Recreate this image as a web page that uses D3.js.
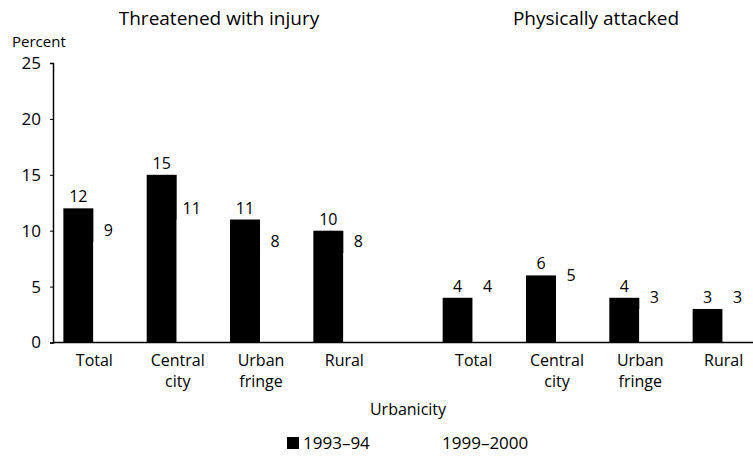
<!DOCTYPE html>
<html>
<head>
<meta charset="utf-8">
<script src="https://cdn.jsdelivr.net/npm/d3@7"></script>
<style>
  body { margin: 0; background: #fff; }
  svg text { font-family: "Open Sans", "Noto Sans", sans-serif; fill: #000; }
</style>
</head>
<body>
<div id="chart"></div>
<script>
const categories = [['Total'], ['Central', 'city'], ['Urban', 'fringe'], ['Rural']];
const series = ['1993–94', '1999–2000'];
const panels = ['Threatened with injury', 'Physically attacked'];
const threatened9394 = [12, 15, 11, 10];
const threatened9900 = [9, 11, 8, 8];
const attacked9394 = [4, 6, 4, 3];
const attacked9900 = [4, 5, 3, 3];
const yTicks = [0, 5, 10, 15, 20, 25];

const width = 753;
const height = 456;
const colors = ['#000', '#fff'];

const svg = d3.select('#chart')
              .append('svg')
              .attr('width', width)
              .attr('height', height);

const yScale = d3.scaleLinear()
                 .domain([0, 25])
                 .range([342.5, 63]);

const catKeys = categories.map(c => c.join(' '));

const panelData = [
    { title: panels[0], values: [threatened9394, threatened9900], range: [51.7, 385], titleX: 219 },
    { title: panels[1], values: [attacked9394, attacked9900], range: [431, 764.3], titleX: 596 }
];

const yAxis = d3.axisLeft(yScale)
                .tickValues(yTicks)
                .tickSize(3)
                .tickPadding(9);

svg.append('text')
   .attr('x', 12).attr('y', 47)
   .style('font-size', '15px')
   .text('Percent');

panelData.forEach(p => {
    const x = d3.scaleBand()
                .domain(catKeys)
                .range(p.range)
                .paddingInner(0.28)
                .paddingOuter(0.14);
    const xSub = d3.scaleBand()
                   .domain(series)
                   .range([0, x.bandwidth()]);

    svg.append('text')
       .attr('x', p.titleX).attr('y', 25)
       .attr('text-anchor', 'middle')
       .style('font-size', '19px')
       .text(p.title);

    const g = svg.append('g');

    series.forEach((s, si) => {
        const vals = p.values[si];
        g.selectAll('.bar-' + si)
         .data(vals)
         .enter()
         .append('rect')
         .attr('x', (d, i) => x(catKeys[i]) + xSub(s))
         .attr('y', d => yScale(d))
         .attr('width', xSub.bandwidth())
         .attr('height', d => yScale(0) - yScale(d))
         .attr('fill', colors[si]);

        g.selectAll('.lab-' + si)
         .data(vals)
         .enter()
         .append('text')
         .attr('x', (d, i) => x(catKeys[i]) + xSub(s) + xSub.bandwidth() / 2)
         .attr('y', d => yScale(d) - 6)
         .attr('text-anchor', 'middle')
         .style('font-size', '16px')
         .text(d => d);
    });

    categories.forEach((c, i) => {
        const cx = x(catKeys[i]) + x.bandwidth() / 2 + 1;
        const t = svg.append('text')
                     .attr('x', cx)
                     .attr('y', 366)
                     .attr('text-anchor', 'middle')
                     .style('font-size', '16px');
        c.forEach((line, li) => {
            t.append('tspan')
             .attr('x', cx)
             .attr('dy', li === 0 ? 0 : 21)
             .text(line);
        });
    });
});

// baseline across both panels, drawn over the bars
svg.append('line')
   .attr('x1', 53).attr('x2', width)
   .attr('y1', yScale(0)).attr('y2', yScale(0))
   .attr('stroke', '#000').attr('stroke-width', 1.5);

const yG = svg.append('g')
              .attr('transform', 'translate(53,0)')
              .call(yAxis);
yG.select('.domain').attr('stroke-width', 1.5);
yG.selectAll('text').style('font-size', '17px');

svg.append('text')
   .attr('x', 408).attr('y', 415)
   .attr('text-anchor', 'middle')
   .style('font-size', '16px')
   .text('Urbanicity');

// legend
const legend = svg.append('g');
const legendX = [287, 426];
series.forEach((s, i) => {
    legend.append('rect')
          .attr('x', legendX[i]).attr('y', 437)
          .attr('width', 12).attr('height', 12)
          .attr('fill', colors[i]);
    legend.append('text')
          .attr('x', legendX[i] + 16).attr('y', 449)
          .style('font-size', '17px')
          .text(s);
});
</script>
</body>
</html>
